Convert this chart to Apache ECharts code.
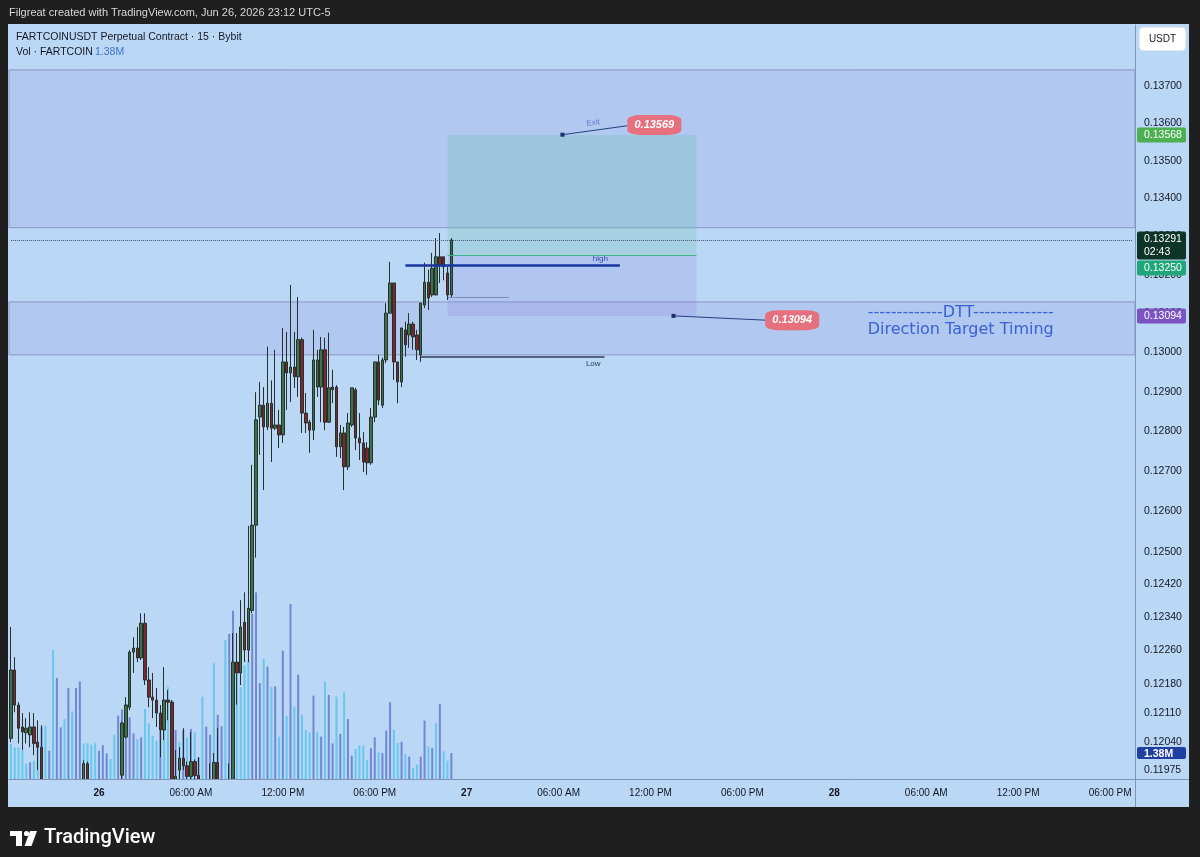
<!DOCTYPE html>
<html>
<head>
<meta charset="utf-8">
<title>FARTCOINUSDT 15</title>
<script src="https://cdn.jsdelivr.net/npm/echarts@6/dist/echarts.min.js"></script>
<style>
  html, body { margin: 0; padding: 0; background: #1f1f1f; }
  #chart { width: 1200px; height: 857px; }
</style>
</head>
<body>
<div id="chart"></div>
<script>
// 15m bars, first one is 25 Jun 18:15, last one 26 Jun 23:00
const opens = [
  0.12050, 0.12213, 0.12129, 0.12077, 0.12063, 0.12058, 0.12077, 0.12041, 0.12029, 0.11940,
  0.11900, 0.11915, 0.11880, 0.11905, 0.11925, 0.11900, 0.11920, 0.11935, 0.11910, 0.11945,
  0.11990, 0.11940, 0.11925, 0.11930, 0.11915, 0.11935, 0.11940, 0.11930, 0.11945, 0.11963,
  0.12053, 0.12124, 0.12256, 0.12266, 0.12242, 0.12326, 0.12189, 0.12148, 0.12141, 0.12110,
  0.12070, 0.12141, 0.12136, 0.11945, 0.11975, 0.12003, 0.11985, 0.11960, 0.11995, 0.11962,
  0.11945, 0.11930, 0.11940, 0.11950, 0.11993, 0.11945, 0.11920, 0.11935, 0.11945, 0.12232,
  0.12206, 0.12328, 0.12261, 0.12357, 0.12566, 0.12836, 0.12866, 0.12811, 0.12871, 0.12808,
  0.12816, 0.12791, 0.12976, 0.12948, 0.12963, 0.12938, 0.13033, 0.12846, 0.12823, 0.12803,
  0.12912, 0.12912, 0.13007, 0.12823, 0.12912, 0.12912, 0.12761, 0.12796, 0.12711, 0.12816,
  0.12905, 0.12783, 0.12771, 0.12758, 0.12721, 0.12836, 0.12976, 0.12866, 0.12981, 0.13101,
  0.13179, 0.12976, 0.12925, 0.13058, 0.13045, 0.13073, 0.13045, 0.12994, 0.13122, 0.13181,
  0.13148, 0.13148, 0.13247, 0.13247, 0.13205, 0.13148
]
const highs = [
  0.12317, 0.12244, 0.12136, 0.12110, 0.12098, 0.12112, 0.12110, 0.12093, 0.12081, 0.11948,
  0.11930, 0.11945, 0.11920, 0.11940, 0.11948, 0.11935, 0.11948, 0.11948, 0.11945, 0.11998,
  0.11995, 0.11948, 0.11945, 0.11948, 0.11940, 0.11948, 0.11948, 0.11948, 0.11948, 0.12090,
  0.12148, 0.12261, 0.12292, 0.12317, 0.12350, 0.12350, 0.12220, 0.12206, 0.12170, 0.12129,
  0.12220, 0.12165, 0.12141, 0.12022, 0.12029, 0.12074, 0.11995, 0.12065, 0.12000, 0.12005,
  0.11948, 0.11945, 0.11991, 0.12015, 0.12074, 0.11948, 0.11945, 0.11991, 0.12302, 0.12302,
  0.12382, 0.12401, 0.12564, 0.12716, 0.12899, 0.12925, 0.12912, 0.13015, 0.12929, 0.13007,
  0.12854, 0.13063, 0.13053, 0.13174, 0.13053, 0.13143, 0.13038, 0.12897, 0.12829, 0.13058,
  0.13007, 0.13040, 0.13038, 0.13051, 0.12956, 0.12917, 0.12816, 0.12811, 0.12846, 0.12910,
  0.12910, 0.12846, 0.12798, 0.12773, 0.12859, 0.12976, 0.12994, 0.12987, 0.13127, 0.13234,
  0.13179, 0.12976, 0.13063, 0.13079, 0.13101, 0.13079, 0.13058, 0.13127, 0.13232, 0.13214,
  0.13257, 0.13296, 0.13309, 0.13247, 0.13221, 0.13296
]
const lows = [
  0.12041, 0.12112, 0.12038, 0.12022, 0.12038, 0.12029, 0.12010, 0.11975, 0.11928, 0.11885,
  0.11870, 0.11860, 0.11850, 0.11885, 0.11890, 0.11865, 0.11895, 0.11900, 0.11890, 0.11930,
  0.11935, 0.11910, 0.11895, 0.11900, 0.11890, 0.11915, 0.11920, 0.11905, 0.11920, 0.11935,
  0.12050, 0.12117, 0.12206, 0.12232, 0.12237, 0.12177, 0.12124, 0.12098, 0.12077, 0.12005,
  0.12046, 0.12093, 0.11930, 0.11920, 0.11950, 0.11975, 0.11940, 0.11945, 0.11950, 0.11930,
  0.11910, 0.11900, 0.11920, 0.11935, 0.11935, 0.11900, 0.11880, 0.11915, 0.11930, 0.12130,
  0.12177, 0.12232, 0.12232, 0.12350, 0.12486, 0.12741, 0.12653, 0.12803, 0.12723, 0.12803,
  0.12758, 0.12771, 0.12854, 0.12874, 0.12910, 0.12887, 0.12796, 0.12796, 0.12746, 0.12778,
  0.12887, 0.12823, 0.12803, 0.12821, 0.12871, 0.12736, 0.12733, 0.12653, 0.12703, 0.12811,
  0.12753, 0.12728, 0.12698, 0.12691, 0.12716, 0.12823, 0.12866, 0.12859, 0.12973, 0.13101,
  0.12930, 0.12871, 0.12912, 0.12989, 0.13012, 0.13007, 0.12981, 0.12976, 0.13114, 0.13109,
  0.13143, 0.13148, 0.13179, 0.13186, 0.13135, 0.13143
]
const closes = [
  0.12213, 0.12129, 0.12074, 0.12065, 0.12074, 0.12077, 0.12038, 0.12029, 0.11940, 0.11900,
  0.11915, 0.11880, 0.11905, 0.11925, 0.11900, 0.11920, 0.11935, 0.11910, 0.11938, 0.11990,
  0.11940, 0.11925, 0.11930, 0.11915, 0.11935, 0.11940, 0.11930, 0.11945, 0.11945, 0.12086,
  0.12129, 0.12256, 0.12266, 0.12242, 0.12326, 0.12189, 0.12148, 0.12141, 0.12110, 0.12070,
  0.12141, 0.12136, 0.11945, 0.11960, 0.12003, 0.11985, 0.11960, 0.11995, 0.11962, 0.11945,
  0.11930, 0.11940, 0.11945, 0.11993, 0.11945, 0.11920, 0.11935, 0.11945, 0.12232, 0.12206,
  0.12317, 0.12261, 0.12362, 0.12566, 0.12829, 0.12866, 0.12811, 0.12871, 0.12808, 0.12816,
  0.12791, 0.12976, 0.12948, 0.12963, 0.12938, 0.13033, 0.12846, 0.12821, 0.12803, 0.12981,
  0.12981, 0.13007, 0.12823, 0.12910, 0.12905, 0.12761, 0.12796, 0.12711, 0.12821, 0.12910,
  0.12783, 0.12771, 0.12723, 0.12721, 0.12836, 0.12976, 0.12879, 0.12981, 0.13101, 0.13179,
  0.12976, 0.12925, 0.13063, 0.13020, 0.13073, 0.13040, 0.13007, 0.13127, 0.13181, 0.13140,
  0.13217, 0.13247, 0.13226, 0.13221, 0.13148, 0.13291
]
// volume in millions, tone L = light cyan, B = blue
const volumes = [
  1.86, 1.68, 1.68, 1.50, 0.80, 0.88, 0.97, 1.68, 2.74, 2.83,
  1.50, 6.85, 5.36, 2.74, 3.18, 4.83, 3.59, 4.83, 5.18, 1.89,
  1.89, 1.82, 1.89, 1.50, 1.80, 1.36, 1.06, 2.35, 3.36, 3.68,
  3.98, 3.27, 2.42, 2.12, 2.21, 3.72, 2.95, 2.30, 2.03, 2.57,
  4.16, 4.87, 4.16, 2.60, 1.95, 2.60, 2.21, 2.65, 2.48, 1.15,
  4.37, 2.78, 2.35, 6.14, 3.41, 2.80, 7.38, 7.70, 8.93, 5.57,
  4.87, 6.02, 6.28, 8.76, 9.90, 5.08, 6.37, 5.96, 4.87, 4.92,
  2.25, 6.81, 3.36, 9.29, 3.84, 5.54, 3.41, 2.60, 2.48, 4.42,
  2.51, 2.25, 5.18, 4.46, 1.89, 4.37, 2.39, 4.60, 3.18, 1.24,
  1.59, 1.77, 1.77, 1.01, 1.63, 2.21, 1.42, 1.38, 2.57, 4.07,
  2.60, 1.91, 1.98, 1.33, 1.19, 0.58, 0.76, 1.19, 3.10, 1.73,
  1.65, 2.95, 3.98, 1.47, 0.97, 1.38
]
const volTones = (
  'LLLLLBLLBL' + 'BLBBLBLBBL' + 'LLLBBBLLBB' + 'BBBLBLLLLB' + 'LLBBLBLBLB' +
  'LBBLBBLBBL' + 'LLLBBBLBLB' + 'LBLBLBLLLB' + 'LBLBBLBLBB' + 'LLLLBBLBBB' +
  'LLBLBLLBBL' + 'BLBLLB'
).split('')

const priceTicks = [0.137, 0.136, 0.135, 0.134, 0.133, 0.132, 0.131, 0.130, 0.129, 0.128,
  0.127, 0.126, 0.125, 0.1242, 0.1234, 0.1226, 0.1218, 0.1211, 0.1204, 0.11975]
const timeTickSlots = ['26 00:00', '26 06:00', '26 12:00', '26 18:00', '27 00:00', '27 06:00',
  '27 12:00', '27 18:00', '28 00:00', '28 06:00', '28 12:00', '28 18:00']
const timeTickLabels = ['26', '06:00 AM', '12:00 PM', '06:00 PM', '27', '06:00 AM',
  '12:00 PM', '06:00 PM', '28', '06:00 AM', '12:00 PM', '06:00 PM']

// levels drawn on the chart
const zoneTop = [0.13743, 0.13323]
const zoneDtt = [0.13130, 0.12994]
const target = 0.13568
const entry = 0.13250
const stop = 0.13094
const lastPrice = 0.13291
const highLevel = 0.13226
const lowLevel = 0.12989
const lastLow = 0.13143

// 15 minute slots on the x axis (data + empty space to the right)
const pad = n => String(n).padStart(2, '0')
const categories = []
for (let i = 0; i < 294; i++) {
  const m = 18 * 60 + 15 + i * 15
  const d = 25 + Math.floor(m / 1440)
  const mm = m % 1440
  categories.push(d + ' ' + pad(Math.floor(mm / 60)) + ':' + pad(mm % 60))
}
const cat = i => categories[i]
const lastCat = categories.length - 1

const candleData = opens.map((o, i) => [o, closes[i], lows[i], highs[i]])
const volumeData = volumes.map((v, i) => ({
  value: v,
  itemStyle: { color: volTones[i] === 'L' ? '#5fc5ea' : '#6b80d0' }
}))

const FONT = '"Liberation Sans", Arial, sans-serif'
const INK = '#131722'
const PANEL = '#bbd7f6'

const option = {
  animation: false,
  backgroundColor: '#1f1f1f',
  textStyle: { fontFamily: FONT },
  grid: { left: 9, right: 65, top: 25, bottom: 78 },
  xAxis: {
    type: 'category',
    z: 20,
    data: categories,
    boundaryGap: true,
    axisLine: { lineStyle: { color: '#8193b6' } },
    axisTick: { show: false },
    splitLine: { show: false },
    axisLabel: {
      color: INK,
      fontSize: 10,
      margin: 9,
      interval: (idx, val) => timeTickSlots.includes(val),
      formatter: val => {
        const t = timeTickLabels[timeTickSlots.indexOf(val)]
        return t.length <= 2 ? '{d|' + t + '}' : t
      },
      rich: { d: { fontWeight: 'bold', fontSize: 10, color: INK } }
    }
  },
  yAxis: [
    {
      type: 'log',
      position: 'right',
      min: 0.11954,
      max: 0.13865,
      axisLine: { show: true, lineStyle: { color: '#8193b6' } },
      axisTick: { show: false },
      splitLine: { show: false },
      axisLabel: {
        customValues: priceTicks,
        formatter: v => v.toFixed(5),
        color: INK,
        fontSize: 10.5,
        margin: 9
      }
    },
    { type: 'value', min: 0, max: 40, show: false }
  ],
  series: [
    {
      name: 'Vol',
      type: 'bar',
      yAxisIndex: 1,
      barWidth: 2,
      silent: true,
      clip: true,
      z: 1,
      itemStyle: { opacity: 0.92 },
      data: volumeData
    },
    {
      name: 'FARTCOINUSDT',
      type: 'candlestick',
      yAxisIndex: 0,
      barWidth: 3,
      clip: true,
      z: 3,
      silent: true,
      itemStyle: {
        color: '#3b7449',
        color0: '#80262c',
        borderColor: '#26302f',
        borderColor0: '#26302f',
        borderWidth: 1
      },
      data: candleData,
      markArea: {
        silent: true,
        data: [
          [{ yAxis: zoneTop[0], itemStyle: { color: 'rgba(110,100,200,0.12)', borderColor: '#8c96c4', borderWidth: 1 } },
           { yAxis: zoneTop[1] }],
          [{ yAxis: zoneDtt[0], itemStyle: { color: 'rgba(110,100,200,0.12)', borderColor: '#8c96c4', borderWidth: 1 } },
           { yAxis: zoneDtt[1] }],
          [{ coord: [cat(114), target], itemStyle: { color: 'rgba(86,190,160,0.22)' } },
           { coord: [cat(179), entry] }],
          [{ coord: [cat(114), entry], itemStyle: { color: 'rgba(125,105,215,0.16)' } },
           { coord: [cat(179), stop] }]
        ]
      },
      markLine: {
        silent: true,
        symbol: ['none', 'none'],
        label: { show: false },
        data: [
          [{ coord: [cat(0), lastPrice], lineStyle: { type: 'dotted', color: '#44516a', width: 1 } },
           { coord: [cat(lastCat), lastPrice] }],
          [{ coord: [cat(114), entry], lineStyle: { color: '#45b08a', width: 1.2, type: 'solid' } },
           { coord: [cat(179), entry] }],
          [{ coord: [cat(103), highLevel],
             lineStyle: { color: '#17359c', width: 2.5, type: 'solid' },
             label: { show: true, formatter: 'high', position: 'insideEndTop', color: '#2c4aa8', fontSize: 8, distance: [12, 2] } },
           { coord: [cat(159), highLevel] }],
          [{ coord: [cat(107), lowLevel],
             lineStyle: { color: '#2f3c55', width: 1.5, type: 'solid' },
             label: { show: true, formatter: 'Low', position: 'insideEndBottom', color: '#2f3c55', fontSize: 8, distance: [4, 3] } },
           { coord: [cat(155), lowLevel] }],
          [{ coord: [cat(114), lastLow], lineStyle: { color: '#4d5870', width: 1, type: 'dotted' } },
           { coord: [cat(130), lastLow] }],
          [{ coord: [cat(144), 0.13569], lineStyle: { color: '#24407f', width: 1, type: 'solid' } },
           { coord: [cat(161), 0.13593] }],
          [{ coord: [cat(173), 0.13094], lineStyle: { color: '#24407f', width: 1, type: 'solid' } },
           { coord: [cat(197), 0.13083] }]
        ]
      },
      markPoint: {
        silent: true,
        data: [
          { coord: [cat(144), 0.13569], symbol: 'rect', symbolSize: 4, itemStyle: { color: '#1d2f6b' }, label: { show: false } },
          { coord: [cat(173), 0.13094], symbol: 'rect', symbolSize: 4, itemStyle: { color: '#1d2f6b' }, label: { show: false } },
          { coord: [cat(168), 0.13595], symbol: 'roundRect', symbolSize: [54, 20], itemStyle: { color: '#e6707e' },
            label: { show: true, formatter: '0.13569', color: '#ffffff', fontStyle: 'italic', fontWeight: 'bold', fontSize: 11 } },
          { coord: [cat(204), 0.13083], symbol: 'roundRect', symbolSize: [54, 20], itemStyle: { color: '#e6707e' },
            label: { show: true, formatter: '0.13094', color: '#ffffff', fontStyle: 'italic', fontWeight: 'bold', fontSize: 11 } },
          { coord: [cat(152), 0.13601], symbolSize: 0,
            label: { show: true, formatter: 'Exit', color: '#5b79d6', fontSize: 8, rotate: 7 } },
          { coord: [cat(248), 0.13103], symbolSize: 0,
            label: { show: true, formatter: '-------------DTT--------------', color: '#3a62d8', fontSize: 16, fontFamily: '"DejaVu Sans"' } },
          { coord: [cat(248), 0.13058], symbolSize: 0,
            label: { show: true, formatter: 'Direction Target Timing', color: '#3a62d8', fontSize: 16, fontFamily: '"DejaVu Sans"' } }
        ]
      }
    }
  ]
}

const chart = echarts.init(document.getElementById('chart'))
chart.setOption(option)

// frame, header texts, price tags on the axis
function txt(x, y, text, fill, font, align, z) {
  return {
    type: 'text', x, y, z: z || 0, silent: true,
    style: { text, fill, font, textAlign: align || 'left', textVerticalAlign: 'middle', align: align || 'left', verticalAlign: 'middle' }
  }
}

function badge(top, h, bg, lines, bold) {
  const els = [{ type: 'rect', z: 100, silent: true, shape: { x: 1137, y: top, width: 49, height: h, r: 2 }, style: { fill: bg } }]
  lines.forEach((s, k) => {
    els.push(txt(1144, top + 7.5 + k * 13, s, '#ffffff', (bold ? 'bold ' : '') + '10.5px ' + FONT, 'left', 101))
  })
  return els
}

function drawOverlay() {
  const yOf = v => chart.convertToPixel({ yAxisIndex: 0 }, v)
  const yVol = chart.convertToPixel({ yAxisIndex: 1 }, volumes[volumes.length - 1])
  const lastTop = yOf(lastPrice) - 8.5
  const elements = [
    { type: 'rect', z: -10, silent: true, shape: { x: 8, y: 24, width: 1181, height: 783 }, style: { fill: PANEL } },
    // time-scale strip drawn over anything that spills below the price pane
    { type: 'rect', z: 10, silent: true, shape: { x: 8, y: 779.5, width: 1128, height: 27.5 }, style: { fill: PANEL } },
    { type: 'line', z: 50, silent: true, shape: { x1: 1135.5, y1: 779, x2: 1135.5, y2: 807 }, style: { stroke: '#8193b6' } },
    { type: 'line', z: 50, silent: true, shape: { x1: 1135, y1: 779.5, x2: 1189, y2: 779.5 }, style: { stroke: '#8193b6' } },
    txt(9, 13, 'Filgreat created with TradingView.com, Jun 26, 2026 23:12 UTC-5', '#d6d8dc', '11px ' + FONT),
    txt(16, 37, 'FARTCOINUSDT Perpetual Contract · 15 · Bybit', INK, '10.5px ' + FONT),
    txt(16, 52, 'Vol · FARTCOIN', INK, '10.5px ' + FONT),
    txt(95, 52, volumes[volumes.length - 1].toFixed(2) + 'M', '#3f73c8', '10.5px ' + FONT),
    { type: 'rect', z: 100, silent: true, shape: { x: 1139, y: 27, width: 47, height: 24, r: 4 }, style: { fill: '#ffffff', stroke: '#c9d6ea' } },
    txt(1162.5, 39, 'USDT', INK, '10px ' + FONT, 'center', 101),
    ...badge(yOf(target) - 7.5, 15, '#4caf50', [target.toFixed(5)]),
    ...badge(lastTop, 28, '#0e3327', [lastPrice.toFixed(5), '02:43']),
    ...badge(Math.max(yOf(entry) - 7.5, lastTop + 29), 15, '#1fa77a', [entry.toFixed(5)]),
    ...badge(yOf(stop) - 7.5, 15, '#7c53c3', [stop.toFixed(5)]),
    ...badge(yVol - 6, 12, '#1f3fa3', [volumes[volumes.length - 1].toFixed(2) + 'M'], true),
    // TradingView logo
    { type: 'rect', silent: true, shape: { x: 10, y: 831, width: 12, height: 5 }, style: { fill: '#ffffff' } },
    { type: 'rect', silent: true, shape: { x: 16, y: 831, width: 6, height: 15 }, style: { fill: '#ffffff' } },
    { type: 'circle', silent: true, shape: { cx: 26.5, cy: 833.5, r: 2.6 }, style: { fill: '#ffffff' } },
    { type: 'polygon', silent: true, shape: { points: [[30, 831], [37, 831], [31.5, 846], [24.5, 846]] }, style: { fill: '#ffffff' } },
    txt(44, 838, 'TradingView', '#ffffff', '500 20px Roboto, ' + FONT)
  ]
  chart.setOption({ graphic: { elements } })
}
drawOverlay()
</script>
</body>
</html>
